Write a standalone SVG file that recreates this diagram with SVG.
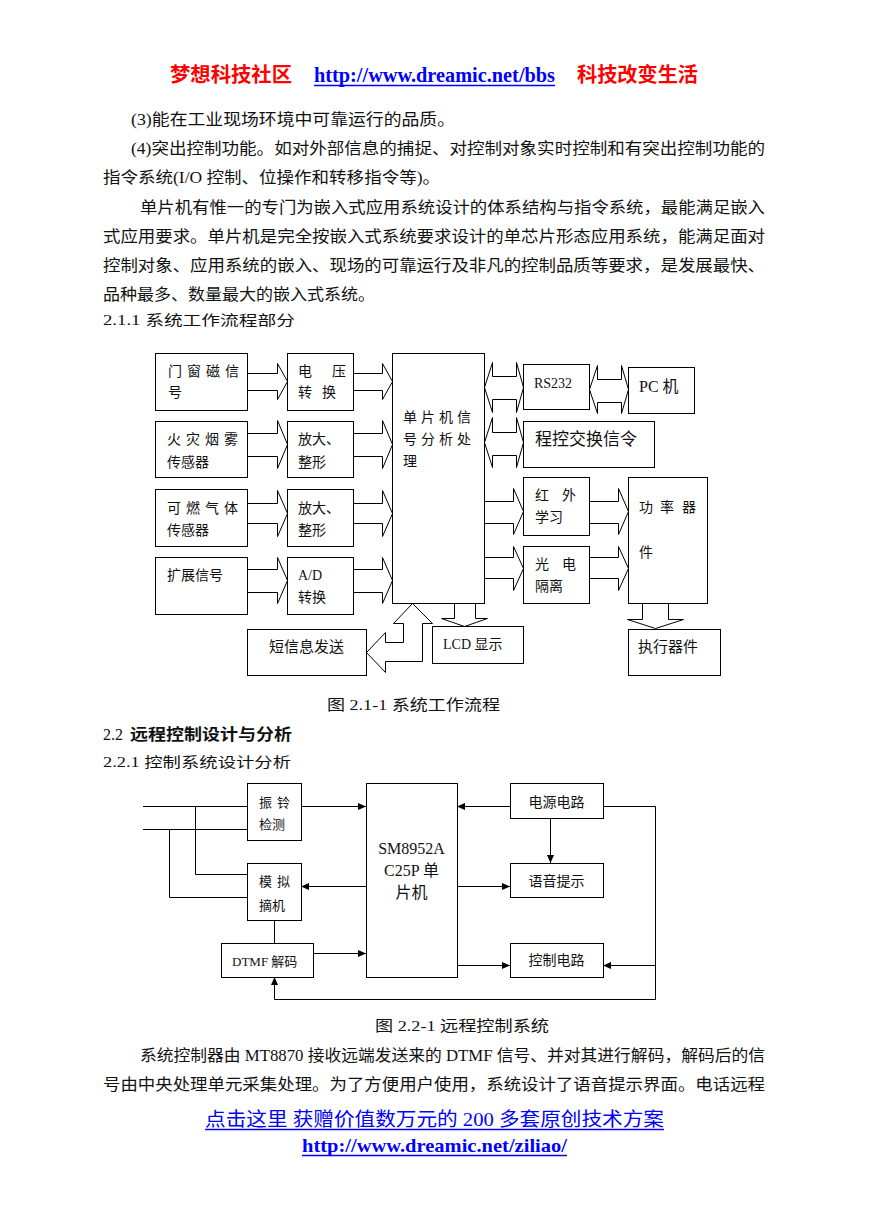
<svg xmlns="http://www.w3.org/2000/svg" width="869" height="1228" viewBox="0 0 869 1228">
<style>
.t{font-family:"Liberation Serif","Noto Sans CJK SC",serif;fill:#111}
.h{font-family:"Noto Sans CJK SC",sans-serif;fill:#111}
.b{fill:#fff;stroke:#000;stroke-width:1}
.a{fill:#fff;stroke:#000;stroke-width:1;stroke-linejoin:miter}
.l{fill:none;stroke:#000;stroke-width:1}
.s14{font-size:14px}.s13{font-size:13px}.s15{font-size:15px}.s16{font-size:16px}.s17{font-size:17px}
.red{fill:#ff0000;font-weight:bold;font-size:20px}
.blu{fill:#0000ff}
.ul{stroke:#0000ff;stroke-width:1.3}
</style>
<defs>
<marker id="m" viewBox="0 0 8 7" refX="8" refY="3.5" markerWidth="8" markerHeight="7" markerUnits="userSpaceOnUse" orient="auto"><path d="M0,0 L8,3.5 L0,7 z" fill="#000"/></marker>
</defs>
<rect width="869" height="1228" fill="#fff"/>

<g id="page-text">
<text class="h red" x="170" y="82" textLength="122" lengthAdjust="spacingAndGlyphs">梦想科技社区</text>
<text class="t blu" x="314" y="82" font-size="20" font-weight="bold" textLength="241" lengthAdjust="spacingAndGlyphs">http://www.dreamic.net/bbs</text>
<line class="ul" x1="314" y1="85.5" x2="555" y2="85.5"/>
<text class="h red" x="577" y="82" textLength="121" lengthAdjust="spacingAndGlyphs">科技改变生活</text>

<text class="t s16" x="131" y="125" textLength="324" lengthAdjust="spacingAndGlyphs">(3)能在工业现场环境中可靠运行的品质。</text>
<text class="t s16" x="131" y="154" textLength="634" lengthAdjust="spacingAndGlyphs">(4)突出控制功能。如对外部信息的捕捉、对控制对象实时控制和有突出控制功能的</text>
<text class="t s16" x="103" y="183" textLength="337" lengthAdjust="spacingAndGlyphs">指令系统(I/O 控制、位操作和转移指令等)。</text>
<text class="t s16" x="140" y="213" textLength="625" lengthAdjust="spacingAndGlyphs">单片机有惟一的专门为嵌入式应用系统设计的体系结构与指令系统，最能满足嵌入</text>
<text class="t s16" x="103" y="242" textLength="662" lengthAdjust="spacingAndGlyphs">式应用要求。单片机是完全按嵌入式系统要求设计的单芯片形态应用系统，能满足面对</text>
<text class="t s16" x="103" y="271" textLength="662" lengthAdjust="spacingAndGlyphs">控制对象、应用系统的嵌入、现场的可靠运行及非凡的控制品质等要求，是发展最快、</text>
<text class="t s16" x="103" y="300" textLength="272" lengthAdjust="spacingAndGlyphs">品种最多、数量最大的嵌入式系统。</text>
<text class="t s14" x="103" y="325" textLength="192" lengthAdjust="spacingAndGlyphs">2.1.1 系统工作流程部分</text>

<text class="t s15" x="327" y="710" textLength="173" lengthAdjust="spacingAndGlyphs">图 2.1-1 系统工作流程</text>
<text class="t s16" x="103" y="740">2.2 </text>
<text class="h s16" x="130" y="740" font-weight="bold" textLength="162" lengthAdjust="spacingAndGlyphs">远程控制设计与分析</text>
<text class="t s14" x="103" y="767" textLength="188" lengthAdjust="spacingAndGlyphs">2.2.1 控制系统设计分析</text>

<text class="t s15" x="375" y="1031" textLength="174" lengthAdjust="spacingAndGlyphs">图 2.2-1 远程控制系统</text>
<text class="t s16" x="140" y="1061" textLength="625" lengthAdjust="spacingAndGlyphs">系统控制器由 MT8870 接收远端发送来的 DTMF 信号、并对其进行解码，解码后的信</text>
<text class="t s16" x="103" y="1090" textLength="662" lengthAdjust="spacingAndGlyphs">号由中央处理单元采集处理。为了方便用户使用，系统设计了语音提示界面。电话远程</text>

<text class="t blu" x="205" y="1126" font-size="19" textLength="459" lengthAdjust="spacingAndGlyphs">点击这里 获赠价值数万元的 200 多套原创技术方案</text>
<line class="ul" x1="205" y1="1129.5" x2="664" y2="1129.5"/>
<text class="t blu" x="302" y="1152" font-size="19" font-weight="bold" textLength="265" lengthAdjust="spacingAndGlyphs">http://www.dreamic.net/ziliao/</text>
<line class="ul" x1="302" y1="1155.5" x2="567" y2="1155.5"/>
</g>

<g id="connectors">
<path class="a" d="M247.5,373.5 H277.5 V363.5 L287.5,381.5 L277.5,399.5 V390.5 H247.5"/>
<path class="a" d="M247.5,433.5 H277.5 V420.5 L287.5,444.5 L277.5,468.5 V456.5 H247.5"/>
<path class="a" d="M247.5,503.5 H277.5 V490.5 L287.5,513.5 L277.5,536.5 V523.5 H247.5"/>
<path class="a" d="M247.5,569.5 H277.5 V557.5 L287.5,580.5 L277.5,603.5 V592.5 H247.5"/>
<path class="a" d="M353.5,373.5 H382.5 V363.5 L392.5,381.5 L382.5,399.5 V390.5 H353.5"/>
<path class="a" d="M353.5,433.5 H382.5 V420.5 L392.5,444.5 L382.5,468.5 V456.5 H353.5"/>
<path class="a" d="M353.5,503.5 H382.5 V490.5 L392.5,513.5 L382.5,536.5 V523.5 H353.5"/>
<path class="a" d="M353.5,569.5 H382.5 V557.5 L392.5,580.5 L382.5,603.5 V592.5 H353.5"/>
<path class="a" d="M484.5,387.5 L492.5,362.5 V376.5 H516.5 V362.5 L523.5,387.5 L516.5,412.5 V399.5 H492.5 V412.5 Z"/>
<path class="a" d="M484.5,442.5 L492.5,417.5 V432.5 H516.5 V417.5 L523.5,442.5 L516.5,467.5 V455.5 H492.5 V467.5 Z"/>
<path class="a" d="M589.5,389.5 L597.5,365.5 V379.5 H621.5 V365.5 L628.5,389.5 L621.5,413.5 V402.5 H597.5 V413.5 Z"/>
<path class="a" d="M484.5,501.5 H513.5 V488.5 L523.5,511.5 L513.5,534.5 V523.5 H484.5"/>
<path class="a" d="M484.5,557.5 H513.5 V546.5 L523.5,568.5 L513.5,590.5 V578.5 H484.5"/>
<path class="a" d="M589.5,501.5 H618.5 V488.5 L628.5,511.5 L618.5,534.5 V523.5 H589.5"/>
<path class="a" d="M589.5,557.5 H618.5 V546.5 L628.5,568.5 L618.5,590.5 V578.5 H589.5"/>
<path class="a" d="M454.5,603.5 V618.5 H441.5 L464.5,626.5 L487.5,618.5 H475.5 V603.5"/>
<path class="a" d="M642.5,603.5 V619.5 H627.5 L655.5,628.5 L683.5,619.5 H668.5 V603.5"/>
<path class="a" d="M412.5,603.5 L432.5,623.5 H422.5 V661.5 H385.5 V672.5 L366.5,652.5 L385.5,632.5 V642.5 H403.5 V623.5 H393.5 Z"/>

<path class="l" d="M143,806.5 H247"/>
<path class="l" d="M143,829.5 H247"/>
<path class="l" d="M195.5,806.5 V874.5 H247"/>
<path class="l" d="M169.5,829.5 V897.5 H247" stroke="#444" stroke-width="1.5"/>
<path class="l" d="M274.5,920 V943" stroke="#444" stroke-width="1.5"/>
<path class="l" d="M301,806.5 H366" marker-end="url(#m)"/>
<path class="l" d="M366,886.5 H301" marker-end="url(#m)"/>
<path class="l" d="M313,953.5 H366" marker-end="url(#m)"/>
<path class="l" d="M510,806.5 H457" marker-end="url(#m)"/>
<path class="l" d="M603,806.5 H655.5 V999.5 H274.5 V977" marker-end="url(#m)" stroke="#333"/>
<path class="l" d="M550.5,818 V863" marker-end="url(#m)"/>
<path class="l" d="M457,886.5 H510" marker-end="url(#m)"/>
<path class="l" d="M457,965.5 H510" marker-end="url(#m)"/>
<path class="l" d="M655.5,965.5 H603" marker-end="url(#m)"/>
</g>

<g id="n-menchuang"><rect class="b" x="155.5" y="353.5" width="92" height="57"/>
<text class="t s14" x="168 187 206 225" y="376">门窗磁信</text><text class="t s14" x="168" y="397">号</text></g>
<g id="n-dianya"><rect class="b" x="287.5" y="353.5" width="66" height="57"/>
<text class="t s14" x="298 332" y="376">电压</text><text class="t s14" x="298 322" y="397">转换</text></g>
<g id="n-huozai"><rect class="b" x="155.5" y="421.5" width="92" height="56"/>
<text class="t s14" x="167 186 205 224" y="444">火灾烟雾</text><text class="t s14" x="167" y="467">传感器</text></g>
<g id="n-fangda1"><rect class="b" x="287.5" y="421.5" width="66" height="56"/>
<text class="t s14" x="298" y="444">放大、</text><text class="t s14" x="298" y="467">整形</text></g>
<g id="n-keran"><rect class="b" x="155.5" y="489.5" width="92" height="57"/>
<text class="t s14" x="167 186 205 224" y="513">可燃气体</text><text class="t s14" x="167" y="535">传感器</text></g>
<g id="n-fangda2"><rect class="b" x="287.5" y="489.5" width="66" height="57"/>
<text class="t s14" x="298" y="513">放大、</text><text class="t s14" x="298" y="535">整形</text></g>
<g id="n-kuozhan"><rect class="b" x="155.5" y="557.5" width="92" height="57"/>
<text class="t s14" x="167" y="580">扩展信号</text></g>
<g id="n-ad"><rect class="b" x="287.5" y="557.5" width="66" height="57"/>
<text class="t s14" x="298" y="580">A/D</text><text class="t s14" x="298" y="602">转换</text></g>
<g id="n-mcu"><rect class="b" x="392.5" y="353.5" width="92" height="250"/>
<text class="t s14" x="403 421 439 457" y="422">单片机信</text>
<text class="t s14" x="403 421 439 457" y="444">号分析处</text>
<text class="t s14" x="403" y="466">理</text></g>
<g id="n-rs232"><rect class="b" x="523.5" y="364.5" width="66" height="45"/>
<text class="t s14" x="534" y="388">RS232</text></g>
<g id="n-pc"><rect class="b" x="628.5" y="367.5" width="66" height="46"/>
<text class="t s16" x="639" y="392">PC 机</text></g>
<g id="n-chengkong"><rect class="b" x="523.5" y="421.5" width="131" height="46"/>
<text class="t s17" x="535" y="445">程控交换信令</text></g>
<g id="n-hongwai"><rect class="b" x="523.5" y="477.5" width="66" height="58"/>
<text class="t s14" x="535 562" y="500">红外</text><text class="t s14" x="535" y="522">学习</text></g>
<g id="n-guangdian"><rect class="b" x="523.5" y="546.5" width="66" height="57"/>
<text class="t s14" x="535 562" y="569">光电</text><text class="t s14" x="535" y="591">隔离</text></g>
<g id="n-gonglv"><rect class="b" x="628.5" y="477.5" width="79" height="126"/>
<text class="t s14" x="639 660 682" y="512">功率器</text><text class="t s14" x="639" y="557">件</text></g>
<g id="n-lcd"><rect class="b" x="432.5" y="626.5" width="91" height="37"/>
<text class="t s14" x="443" y="649">LCD 显示</text></g>
<g id="n-zhixing"><rect class="b" x="628.5" y="629.5" width="92" height="46"/>
<text class="t s15" x="638" y="652">执行器件</text></g>
<g id="n-duanxin"><rect class="b" x="247.5" y="629.5" width="119" height="46"/>
<text class="t s15" x="269" y="652">短信息发送</text></g>

<g id="n-zhenling"><rect class="b" x="247.5" y="783.5" width="54" height="57"/>
<text class="t s13" x="259 277" y="807">振铃</text><text class="t s13" x="259" y="829">检测</text></g>
<g id="n-moni"><rect class="b" x="247.5" y="863.5" width="54" height="57"/>
<text class="t s13" x="259 277" y="886">模拟</text><text class="t s13" x="259" y="910">摘机</text></g>
<g id="n-dtmf"><rect class="b" x="221.5" y="943.5" width="92" height="34"/>
<text class="t s13" x="232" y="966">DTMF 解码</text></g>
<g id="n-sm8952"><rect class="b" x="366.5" y="783.5" width="91" height="194"/>
<text class="t s16" x="411.5" y="854" text-anchor="middle">SM8952A</text>
<text class="t s16" x="411.5" y="876" text-anchor="middle">C25P 单</text>
<text class="t s16" x="411.5" y="898" text-anchor="middle">片机</text></g>
<g id="n-dianyuan"><rect class="b" x="510.5" y="783.5" width="93" height="35"/>
<text class="t s14" x="556.5" y="807" text-anchor="middle">电源电路</text></g>
<g id="n-yuyin"><rect class="b" x="510.5" y="863.5" width="93" height="34"/>
<text class="t s14" x="556.5" y="886" text-anchor="middle">语音提示</text></g>
<g id="n-kongzhi"><rect class="b" x="510.5" y="943.5" width="93" height="34"/>
<text class="t s14" x="556.5" y="965" text-anchor="middle">控制电路</text></g>
</svg>
